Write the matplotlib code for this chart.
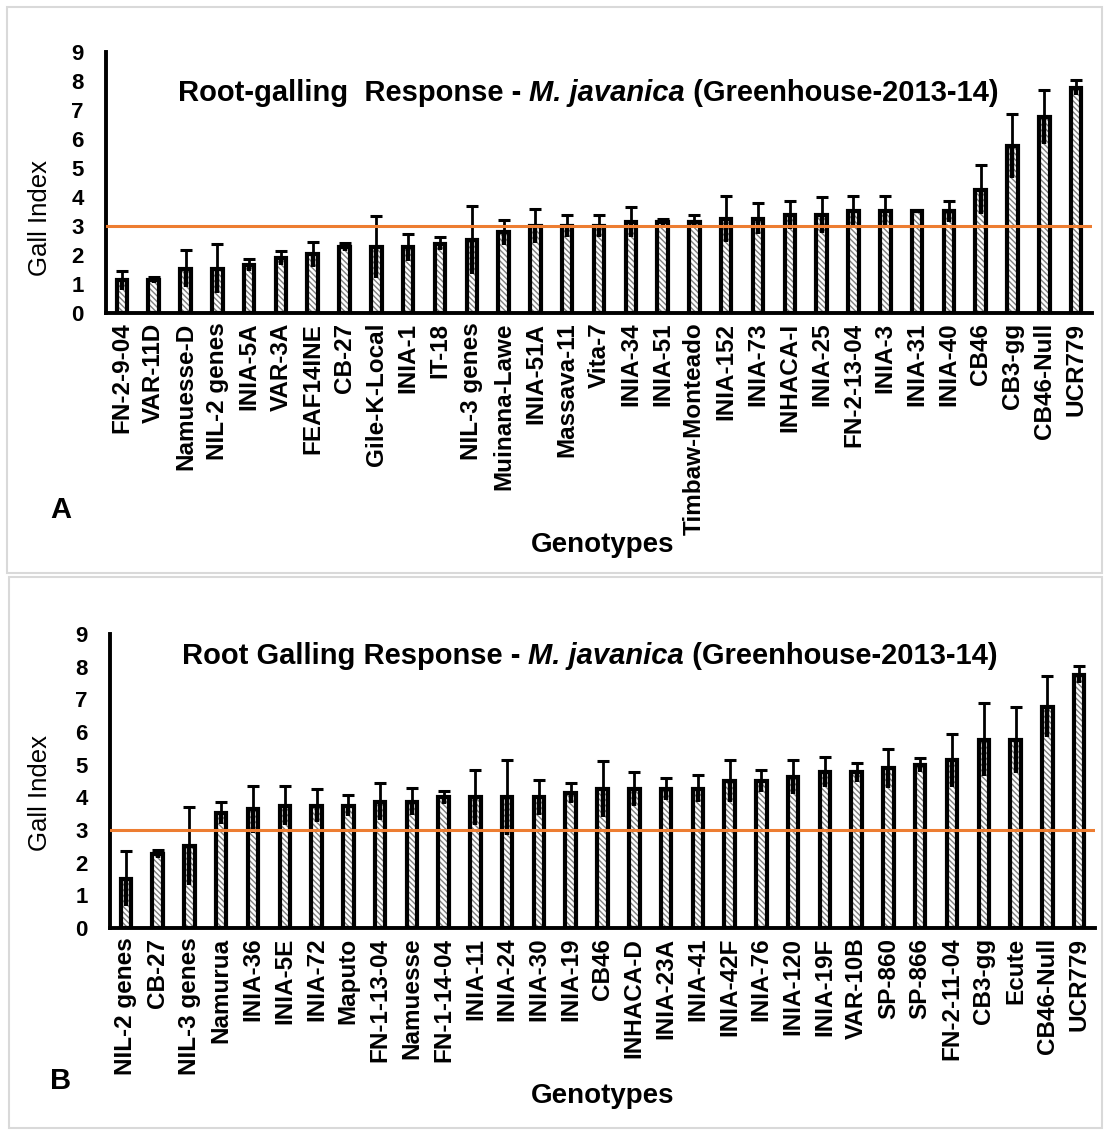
import matplotlib
matplotlib.use("Agg")
import matplotlib.pyplot as plt
import numpy as np
from matplotlib.patches import Rectangle

plt.rcParams['font.family'] = ['Liberation Sans', 'DejaVu Sans']
plt.rcParams['hatch.linewidth'] = 1.0

# ---------------- Panel A data ----------------
genotypes_a = ["FN-2-9-04", "VAR-11D", "Namuesse-D", "NIL-2 genes", "INIA-5A", "VAR-3A",
               "FEAF14INE", "CB-27", "Gile-K-Local", "INIA-1", "IT-18", "NIL-3 genes",
               "Muinana-Lawe", "INIA-51A", "Massava-11", "Vita-7", "INIA-34", "INIA-51",
               "Timbaw-Monteado", "INIA-152", "INIA-73", "INHACA-I", "INIA-25", "FN-2-13-04",
               "INIA-3", "INIA-31", "INIA-40", "CB46", "CB3-gg", "CB46-Null", "UCR779"]
gall_a = [1.13, 1.13, 1.53, 1.53, 1.65, 1.9, 2.02, 2.27, 2.27, 2.27, 2.39, 2.53,
          2.78, 3.0, 3.0, 3.0, 3.15, 3.15, 3.15, 3.25, 3.25, 3.38, 3.38, 3.5,
          3.5, 3.5, 3.5, 4.25, 5.75, 6.76, 7.76]
err_a = [0.33, 0.1, 0.65, 0.85, 0.2, 0.23, 0.44, 0.14, 1.07, 0.46, 0.23, 1.17,
         0.44, 0.6, 0.38, 0.38, 0.52, 0.1, 0.22, 0.79, 0.54, 0.47, 0.62, 0.55,
         0.55, 0.02, 0.35, 0.85, 1.1, 0.94, 0.26]
title_a = ["Root-galling  Response - ", "M. javanica", " (Greenhouse-2013-14)"]

# ---------------- Panel B data ----------------
genotypes_b = ["NIL-2 genes", "CB-27", "NIL-3 genes", "Namurua", "INIA-36", "INIA-5E",
               "INIA-72", "Maputo", "FN-1-13-04", "Namuesse", "FN-1-14-04", "INIA-11",
               "INIA-24", "INIA-30", "INIA-19", "CB46", "INHACA-D", "INIA-23A", "INIA-41",
               "INIA-42F", "INIA-76", "INIA-120", "INIA-19F", "VAR-10B", "SP-860", "SP-866",
               "FN-2-11-04", "CB3-gg", "Ecute", "CB46-Null", "UCR779"]
gall_b = [1.51, 2.26, 2.5, 3.52, 3.63, 3.75, 3.75, 3.75, 3.87, 3.87, 4.0, 4.0,
          4.0, 4.0, 4.14, 4.26, 4.26, 4.26, 4.26, 4.5, 4.5, 4.62, 4.77, 4.77,
          4.89, 5.0, 5.13, 5.76, 5.76, 6.77, 7.76]
err_b = [0.85, 0.12, 1.19, 0.33, 0.73, 0.59, 0.51, 0.33, 0.56, 0.42, 0.19, 0.84,
         1.15, 0.54, 0.3, 0.86, 0.51, 0.33, 0.41, 0.65, 0.35, 0.53, 0.46, 0.29,
         0.6, 0.21, 0.82, 1.12, 1.0, 0.93, 0.25]
title_b = ["Root Galling Response - ", "M. javanica", " (Greenhouse-2013-14)"]

threshold = 3.0
yticks = list(range(0, 10))

W, H = 1107, 1133
fig = plt.figure(figsize=(W / 100, H / 100), dpi=100)


def fx(px):
    return px / W


def fy(py):
    return 1 - py / H


# panel frames
for (x0, y0, x1, y1) in [(7, 7, 1102, 573), (9, 577, 1102, 1128)]:
    fig.add_artist(Rectangle((fx(x0), fy(y1)), fx(x1 - x0), (y1 - y0) / H,
                             transform=fig.transFigure, fill=False,
                             edgecolor='#d9d9d9', linewidth=1.5))


def panel(ax_box, cats, vals, errs, title_parts, title_xy, letter_xy, letter,
          ylab_xy, xlab_y):
    left, top, right, bottom = ax_box
    ax = fig.add_axes([fx(left), fy(bottom), fx(right - left), (bottom - top) / H])
    x = np.arange(len(cats))
    vals = np.array(vals)
    errs = np.array(errs)
    ax.bar(x, vals, width=0.33, color='white', edgecolor='#7f7f7f', linewidth=0,
           hatch='\\\\\\\\\\\\', zorder=2)
    ax.bar(x, vals, width=0.33, fill=False, edgecolor='black', linewidth=3, zorder=3)
    ax.vlines(x, vals - errs, vals, color='black', linewidth=3.2, zorder=4)
    ax.errorbar(x, vals, yerr=[np.zeros_like(errs), errs], fmt='none', ecolor='black',
                elinewidth=2, capsize=4, capthick=2.2, zorder=4)
    ax.axhline(threshold, color='#ED7D31', linewidth=2.2, zorder=5)
    ax.set_xlim(-0.5, len(cats) - 0.5)
    ax.set_ylim(0, 9)
    ax.set_yticks(yticks)
    ax.set_yticklabels([str(t) for t in yticks], fontsize=16, fontweight='bold')
    ax.set_xticks(x)
    ax.set_xticklabels(cats, rotation=90, fontsize=17.5, fontweight='bold')
    ax.tick_params(axis='y', length=0, pad=16)
    ax.tick_params(axis='x', length=0, pad=7)
    for s in ['top', 'right']:
        ax.spines[s].set_visible(False)
    for s in ['left', 'bottom']:
        ax.spines[s].set_linewidth(2.8)
    ax.patch.set_alpha(0)
    # title with mixed styles
    fs = 21
    t1 = fig.text(fx(title_xy[0]), fy(title_xy[1]), title_parts[0], fontsize=fs,
                  fontweight='bold', va='center', ha='left')
    t2 = fig.text(0, 0, title_parts[1], fontsize=fs, fontweight='bold', style='italic',
                  va='center', ha='left')
    t3 = fig.text(0, 0, title_parts[2], fontsize=fs, fontweight='bold', va='center', ha='left')
    fig.canvas.draw()
    r = fig.canvas.get_renderer()
    bb1 = t1.get_window_extent(r)
    t2.set_position((bb1.x1 / W, fy(title_xy[1])))
    bb2 = t2.get_window_extent(r)
    t3.set_position((bb2.x1 / W, fy(title_xy[1])))
    fig.text(fx(ylab_xy[0]), fy(ylab_xy[1]), "Gall Index", rotation=90,
             fontsize=18.5, va='center', ha='center')
    fig.text(fx(603), fy(xlab_y), "Genotypes", fontsize=20, fontweight='bold',
             va='center', ha='center')
    fig.text(fx(letter_xy[0]), fy(letter_xy[1]), letter, fontsize=21, fontweight='bold',
             va='center', ha='center')
    return ax


panel((106, 52, 1092, 313), genotypes_a, gall_a, err_a, title_a, (178, 93), (61, 510), "A",
      (40, 218), 545)
panel((110, 634, 1095, 928), genotypes_b, gall_b, err_b, title_b, (182, 656), (61, 1081), "B",
      (40, 793), 1096)

fig.savefig("out.png", dpi=100)
